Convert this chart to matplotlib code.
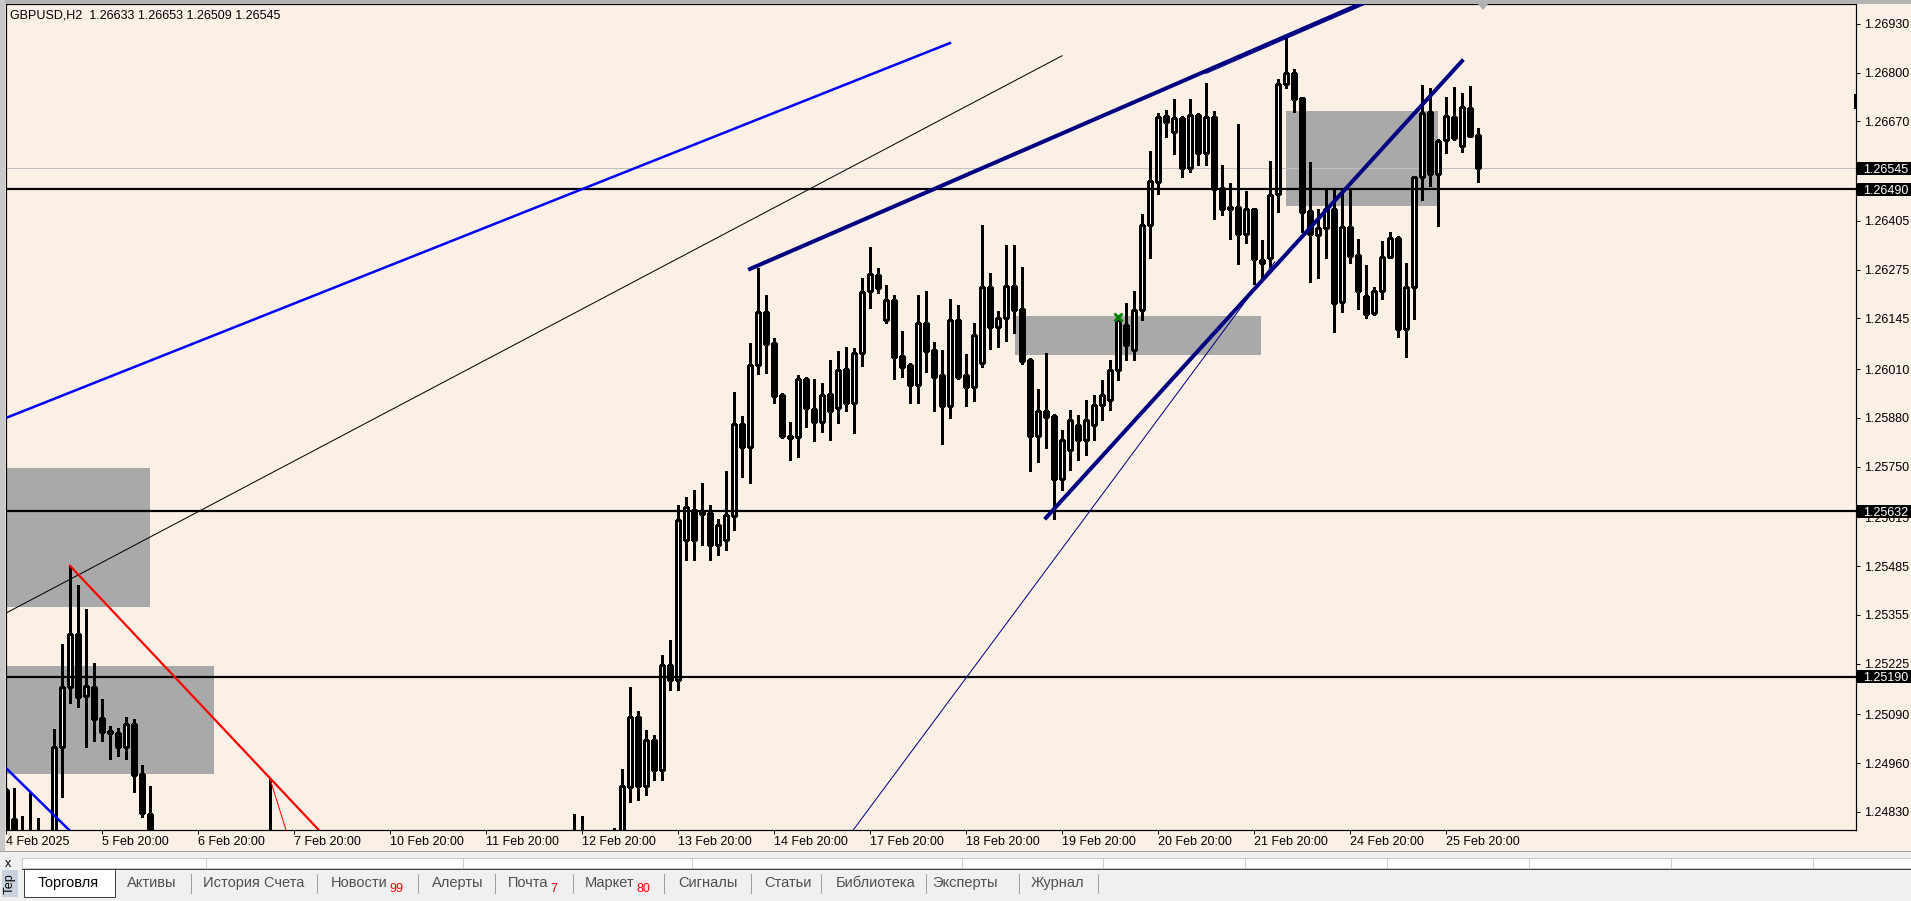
import matplotlib

matplotlib.use("Agg")

import matplotlib.pyplot as plt
from matplotlib.patches import Polygon, Rectangle

plt.rcParams["font.family"] = ["Liberation Sans", "DejaVu Sans"]

nan = float("nan")

# GBPUSD H2 bars, index 0 = 4 Feb 2025 20:00 (weekend hours skipped).
# nan = bar lies completely below the visible price range.
bar_open = [
    1.24889, 1.24811, 1.24755, 1.24742, 1.24755, nan, 1.24729, 1.25003, 1.25163, 1.25304,
    1.25139, 1.25163, 1.25081, 1.25046, 1.25041, 1.25003, 1.25065, 1.24931, 1.24825,
] + [nan] * 14 + [1.24755] + [nan] * 37 + [1.24742, 1.24729, nan, nan, nan, 1.24729, 1.24742, 1.24897, 1.25083,
    1.24899, 1.25022, 1.24942, 1.25222, 1.25182, 1.25555, 1.25635, 1.25630, 1.25627, 1.25542,
    1.25555, 1.25619, 1.25864, 1.25803, 1.26021, 1.26163, 1.26080, 1.25941, 1.25832, 1.25829,
    1.25984, 1.25904, 1.25869, 1.25944, 1.25907, 1.26011, 1.25920, 1.26053, 1.26218, 1.26261,
    1.26141, 1.26195, 1.26045, 1.26021, 1.25968, 1.26133, 1.26061, 1.25995, 1.25912, 1.26141,
    1.25995, 1.25963, 1.26027, 1.26229, 1.26123, 1.26147, 1.26232, 1.26171, 1.26035, 1.25832,
    1.25899, 1.25885, 1.25717, 1.25795, 1.25861, 1.25821, 1.25861, 1.25915, 1.25928, 1.26008,
    1.26128, 1.26061, 1.26168, 1.26394, 1.26509, 1.26685, 1.26642, 1.26680, 1.26546, 1.26688,
    1.26586, 1.26682, 1.26493, 1.26437, 1.26442, 1.26370, 1.26437, 1.26301, 1.26306, 1.26477,
    1.26770, 1.26799, 1.26733, 1.26432, 1.26368, 1.26386, 1.26437, 1.26189, 1.26389, 1.26314,
    1.26205, 1.26160, 1.26218, 1.26309, 1.26360, 1.26117, 1.26229, 1.26522, 1.26696, 1.26530,
    1.26621, 1.26682, 1.26605, 1.26706, 1.26633,
]
bar_high = [
    1.24894, 1.24894, 1.24819, 1.24881, 1.24814, nan, 1.25051, 1.25278, 1.25486, 1.25435,
    1.25371, 1.25227, 1.25131, 1.25059, 1.25054, 1.25083, 1.25078, 1.24955, 1.24899,
] + [nan] * 14 + [1.24918] + [nan] * 37 + [1.24825, 1.24819, nan, nan, nan, 1.24787, 1.24945, 1.25163, 1.25099,
    1.25049, 1.25035, 1.25248, 1.25288, 1.25648, 1.25669, 1.25688, 1.25707, 1.25648, 1.25611,
    1.25739, 1.25949, 1.25885, 1.26080, 1.26280, 1.26208, 1.26093, 1.25947, 1.25869, 1.25995,
    1.25989, 1.25984, 1.25973, 1.26035, 1.26059, 1.26069, 1.26067, 1.26253, 1.26336, 1.26280,
    1.26234, 1.26208, 1.26112, 1.26027, 1.26208, 1.26218, 1.26083, 1.26061, 1.26197, 1.26181,
    1.26051, 1.26133, 1.26394, 1.26266, 1.26165, 1.26341, 1.26341, 1.26282, 1.26040, 1.25957,
    1.26053, 1.25891, 1.25848, 1.25901, 1.25888, 1.25928, 1.25941, 1.25981, 1.26035, 1.26149,
    1.26187, 1.26218, 1.26424, 1.26592, 1.26693, 1.26701, 1.26730, 1.26685, 1.26730, 1.26693,
    1.26773, 1.26698, 1.26554, 1.26506, 1.26664, 1.26485, 1.26440, 1.26354, 1.26565, 1.26784,
    1.26893, 1.26810, 1.26736, 1.26562, 1.26437, 1.26490, 1.26488, 1.26488, 1.26493, 1.26357,
    1.26288, 1.26229, 1.26352, 1.26376, 1.26365, 1.26293, 1.26525, 1.26767, 1.26759, 1.26624,
    1.26736, 1.26762, 1.26746, 1.26765, 1.26653,
]
bar_low = [
    1.24729, 1.24715, 1.24702, 1.24707, 1.24697, nan, 1.24702, 1.24870, 1.25121, 1.25110,
    1.25003, 1.25019, 1.25019, 1.24971, 1.24979, 1.24971, 1.24883, 1.24817, 1.24702,
] + [nan] * 14 + [1.24675] + [nan] * 37 + [1.24675, 1.24675, nan, nan, nan, 1.24689, 1.24715, 1.24857, 1.24862,
    1.24875, 1.24915, 1.24915, 1.25155, 1.25155, 1.25502, 1.25502, 1.25542, 1.25502, 1.25515,
    1.25528, 1.25582, 1.25723, 1.25707, 1.25997, 1.26000, 1.25920, 1.25827, 1.25768, 1.25776,
    1.25856, 1.25819, 1.25843, 1.25821, 1.25867, 1.25899, 1.25840, 1.26019, 1.26173, 1.26213,
    1.26133, 1.25984, 1.25989, 1.25920, 1.25920, 1.26003, 1.25899, 1.25811, 1.25880, 1.25984,
    1.25912, 1.25925, 1.26016, 1.26064, 1.26069, 1.26085, 1.26107, 1.26024, 1.25739, 1.25763,
    1.25800, 1.25610, 1.25688, 1.25741, 1.25768, 1.25781, 1.25821, 1.25875, 1.25901, 1.25981,
    1.26035, 1.26035, 1.26141, 1.26306, 1.26477, 1.26629, 1.26584, 1.26522, 1.26536, 1.26554,
    1.26554, 1.26410, 1.26421, 1.26357, 1.26290, 1.26346, 1.26237, 1.26253, 1.26282, 1.26429,
    1.26759, 1.26696, 1.26376, 1.26242, 1.26253, 1.26306, 1.26109, 1.26163, 1.26293, 1.26171,
    1.26147, 1.26155, 1.26197, 1.26306, 1.26096, 1.26043, 1.26144, 1.26461, 1.26498, 1.26392,
    1.26586, 1.26621, 1.26589, 1.26629, 1.26509,
]
bar_close = [
    1.24755, 1.24742, 1.24729, 1.24761, 1.24729, nan, 1.25003, 1.25163, 1.25304, 1.25136,
    1.25166, 1.25078, 1.25043, 1.25041, 1.25003, 1.25065, 1.24929, 1.24827, 1.24729,
] + [nan] * 14 + [1.24729] + [nan] * 37 + [1.24729, 1.24742, nan, nan, nan, 1.24742, 1.24899, 1.25083, 1.24899,
    1.25022, 1.24942, 1.25222, 1.25182, 1.25608, 1.25643, 1.25555, 1.25624, 1.25542, 1.25595,
    1.25622, 1.25864, 1.25803, 1.26021, 1.26163, 1.26077, 1.25939, 1.25832, 1.25827, 1.25984,
    1.25907, 1.25869, 1.25941, 1.25899, 1.26008, 1.25920, 1.26053, 1.26216, 1.26264, 1.26226,
    1.26195, 1.26043, 1.26016, 1.25968, 1.26133, 1.26059, 1.25989, 1.25912, 1.26141, 1.25989,
    1.25963, 1.26101, 1.26229, 1.26123, 1.26147, 1.26232, 1.26168, 1.26032, 1.25832, 1.25899,
    1.25883, 1.25717, 1.25821, 1.25875, 1.25821, 1.25875, 1.25915, 1.25941, 1.26008, 1.26141,
    1.26075, 1.26168, 1.26394, 1.26512, 1.26682, 1.26669, 1.26680, 1.26546, 1.26688, 1.26586,
    1.26682, 1.26490, 1.26437, 1.26442, 1.26370, 1.26437, 1.26304, 1.26293, 1.26474, 1.26770,
    1.26799, 1.26730, 1.26429, 1.26370, 1.26386, 1.26437, 1.26187, 1.26389, 1.26312, 1.26218,
    1.26157, 1.26218, 1.26309, 1.26360, 1.26117, 1.26229, 1.26522, 1.26693, 1.26530, 1.26618,
    1.26685, 1.26626, 1.26709, 1.26632, 1.26545,
]

date_ticks = [0, 12, 24, 36, 48, 60, 72, 84, 96, 108, 120, 132, 144, 156, 168, 180]
date_labels = [
    "4 Feb 2025", "5 Feb 20:00", "6 Feb 20:00", "7 Feb 20:00", "10 Feb 20:00",
    "11 Feb 20:00", "12 Feb 20:00", "13 Feb 20:00", "14 Feb 20:00", "17 Feb 20:00",
    "18 Feb 20:00", "19 Feb 20:00", "20 Feb 20:00", "21 Feb 20:00", "24 Feb 20:00",
    "25 Feb 20:00",
]
price_ticks = [
    1.26930, 1.26800, 1.26670, 1.26540, 1.26405, 1.26275, 1.26145, 1.26010, 1.25880,
    1.25750, 1.25615, 1.25485, 1.25355, 1.25225, 1.25090, 1.24960, 1.24830,
]
level_prices = [1.26490, 1.25632, 1.25190]
bid_price = 1.26545
header = "GBPUSD,H2  1.26633 1.26653 1.26509 1.26545"

# chart objects drawn by the trader, anchored as (bar index, price)
blue_ray_x, blue_ray_y = [0, 118], [1.25880, 1.26879]
blue_low_x, blue_low_y = [0, 12], [1.24947, 1.24696]
thin_black_x, thin_black_y = [0, 132], [1.25360, 1.26845]
channel_top_x, channel_top_y = [93, 171], [1.26277, 1.26999]
channel_top2_x, channel_top2_y = [150, 172], [1.26798, 1.27002]
channel_low_x, channel_low_y = [130, 182], [1.25614, 1.26831]
navy_thin_x, navy_thin_y = [105, 158.6], [1.24756, 1.26296]
red_x, red_y = [8, 41], [1.25486, 1.24739]
red_thin_x, red_thin_y = [33, 36], [1.24918, 1.24714]
zone_left = [-1, -1, 126.1, 160]
zone_right = [18, 26, 156.9, 179]
zone_low = [1.25376, 1.24931, 1.26048, 1.26445]
zone_high = [1.25747, 1.25219, 1.26152, 1.26698]
mark_x, mark_y = 139, 1.26149

tab_names = ["Торговля", "Активы", "История Счета", "Новости", "Алерты", "Почта",
             "Маркет", "Сигналы", "Статьи", "Библиотека", "Эксперты", "Журнал"]
tab_badges = ["", "", "", "99", "", "7", "80", "", "", "", "", ""]
tab_left = [38, 127, 203, 331, 432, 508, 585, 678, 764, 836, 932, 1031]
tab_seps = [191, 317, 418, 495, 573, 664, 751, 821, 926, 1019, 1098]

W, H = 1911, 901
BG = "#faf0e6"
PX = 0.72  # one pixel in points at 100 dpi

fig = plt.figure(figsize=(W / 100, H / 100), dpi=100, facecolor=BG)
ax = fig.add_axes((6 / W, (H - 830) / H, 1850 / W, 826 / H))
ax.set_facecolor(BG)
ax.set_xlim(0, 231.25)
ax.set_ylim(1.24782, 1.26983)

for left, right, low, high in zip(zone_left, zone_right, zone_low, zone_high):
    ax.add_patch(Rectangle((left, low), right - left, high - low, fc="#a9a9a9",
                           ec="none", zorder=1))

ax.axhline(bid_price, color="#c0c0c0", lw=PX, zorder=1.5)

for i, (o, h, l, c) in enumerate(zip(bar_open, bar_high, bar_low, bar_close)):
    if o != o:
        continue
    ax.vlines(i, l, h, color="black", lw=PX * 1.1, zorder=2, antialiased=False)
    bottom = min(o, c)
    height = max(abs(c - o), 0.00001)
    face = "white" if c > o else "black"
    ax.add_patch(Rectangle((i - 0.25, bottom), 0.5, height, fc=face, ec="black",
                           lw=PX * 1.1, zorder=3, antialiased=False))

for price in level_prices:
    ax.axhline(price, color="black", lw=PX * 2.2, zorder=4)

ax.plot(blue_ray_x, blue_ray_y, color="#0000ff", lw=PX * 2.5, zorder=5)
ax.plot(blue_low_x, blue_low_y, color="#0000ff", lw=PX * 2.5, zorder=5)
ax.plot(thin_black_x, thin_black_y, color="black", lw=PX, zorder=5)
ax.plot(channel_top_x, channel_top_y, color="#000080", lw=PX * 4, zorder=5)
ax.plot(channel_top2_x, channel_top2_y, color="#000080", lw=PX, zorder=5)
ax.plot(channel_low_x, channel_low_y, color="#000080", lw=PX * 4, zorder=5)
ax.plot(navy_thin_x, navy_thin_y, color="#000080", lw=PX, zorder=5)
ax.plot(red_x, red_y, color="#ff0000", lw=PX * 2.2, zorder=5)
ax.plot(red_thin_x, red_thin_y, color="#ff0000", lw=PX, zorder=5)
ax.plot(mark_x, mark_y, marker="x", color="#008000", ms=6, mew=2, zorder=6)

for side in ("left", "right", "top", "bottom"):
    ax.spines[side].set_linewidth(PX * 1.2)
    ax.spines[side].set_color("black")
ax.yaxis.tick_right()
ax.set_yticks(price_ticks, [f"{p:.5f}" for p in price_ticks])
ax.set_xticks(date_ticks, date_labels)
for label in ax.get_xticklabels():
    label.set_horizontalalignment("left")
ax.tick_params(axis="y", direction="out", length=3, width=PX, pad=2.5, labelsize=9)
ax.tick_params(axis="x", direction="out", length=3, width=PX, pad=1.5, labelsize=9)


def price_to_px(price):
    return H - ax.transData.transform((0, price))[1]


ov = fig.add_axes((0, 0, 1, 1))
ov.set_xlim(0, W)
ov.set_ylim(H, 0)
ov.axis("off")
ov.patch.set_alpha(0)

# window frame
ov.add_patch(Rectangle((0, 0), W, 3.5, fc="#b4b4b4", ec="none"))
ov.add_patch(Rectangle((0, 0), 5, 851, fc="#c8c8c8", ec="none"))
ov.add_patch(Polygon([(1478, 4), (1488, 4), (1483, 10)], fc="#b0b0b0", ec="none"))
ov.add_patch(Rectangle((1854, 94), 3, 15, fc="black", ec="none"))
ov.text(10, 19, header, fontsize=9, va="baseline", ha="left")

for price in level_prices + [bid_price]:
    y = price_to_px(price)
    ov.add_patch(Rectangle((1857, y - 6.5), 54, 13, fc="black", ec="none"))
    ov.text(1863, y, f"{price:.5f}", color="white", fontsize=9, va="center_baseline",
            ha="left")

# terminal panel
ov.add_patch(Rectangle((0, 851), W, 50, fc="#f0f0f0", ec="none"))
ov.plot([0, W], [851, 851], color="#a0a0a0", lw=PX)
ov.add_patch(Rectangle((22, 858), W - 22, 10, fc="white", ec="#c8c8c8", lw=PX))
for x in (206, 463, 692, 962, 1103, 1245, 1387, 1529, 1671, 1813):
    ov.plot([x, x], [858, 868], color="#d0d0d0", lw=PX)
ov.plot([22, W], [869, 869], color="#404040", lw=PX)
ov.text(8, 864, "x", fontsize=9, ha="center", va="center")
ov.add_patch(Rectangle((2, 870), 16, 27, fc="#c9d3dd", ec="none"))
ov.text(10, 884, "Тер", fontsize=9, rotation=90, ha="center", va="center")
ov.add_patch(Rectangle((24, 869), 91, 28, fc="white", ec="#404040", lw=PX))
for x in tab_seps:
    ov.plot([x, x], [874, 893], color="#a0a0a0", lw=PX)
for k, (name, badge, left) in enumerate(zip(tab_names, tab_badges, tab_left)):
    t = ov.text(left, 887, name, fontsize=10.5, ha="left", va="baseline",
                color="black" if k == 0 else "#505050")
    if badge:
        t.draw(fig.canvas.get_renderer())
        bb = t.get_window_extent().transformed(ov.transData.inverted())
        ov.text(bb.x1 + 2, 892, badge, fontsize=9, ha="left", va="baseline",
                color="#ff0000")

fig.savefig("out.png", dpi=100, facecolor=BG)
